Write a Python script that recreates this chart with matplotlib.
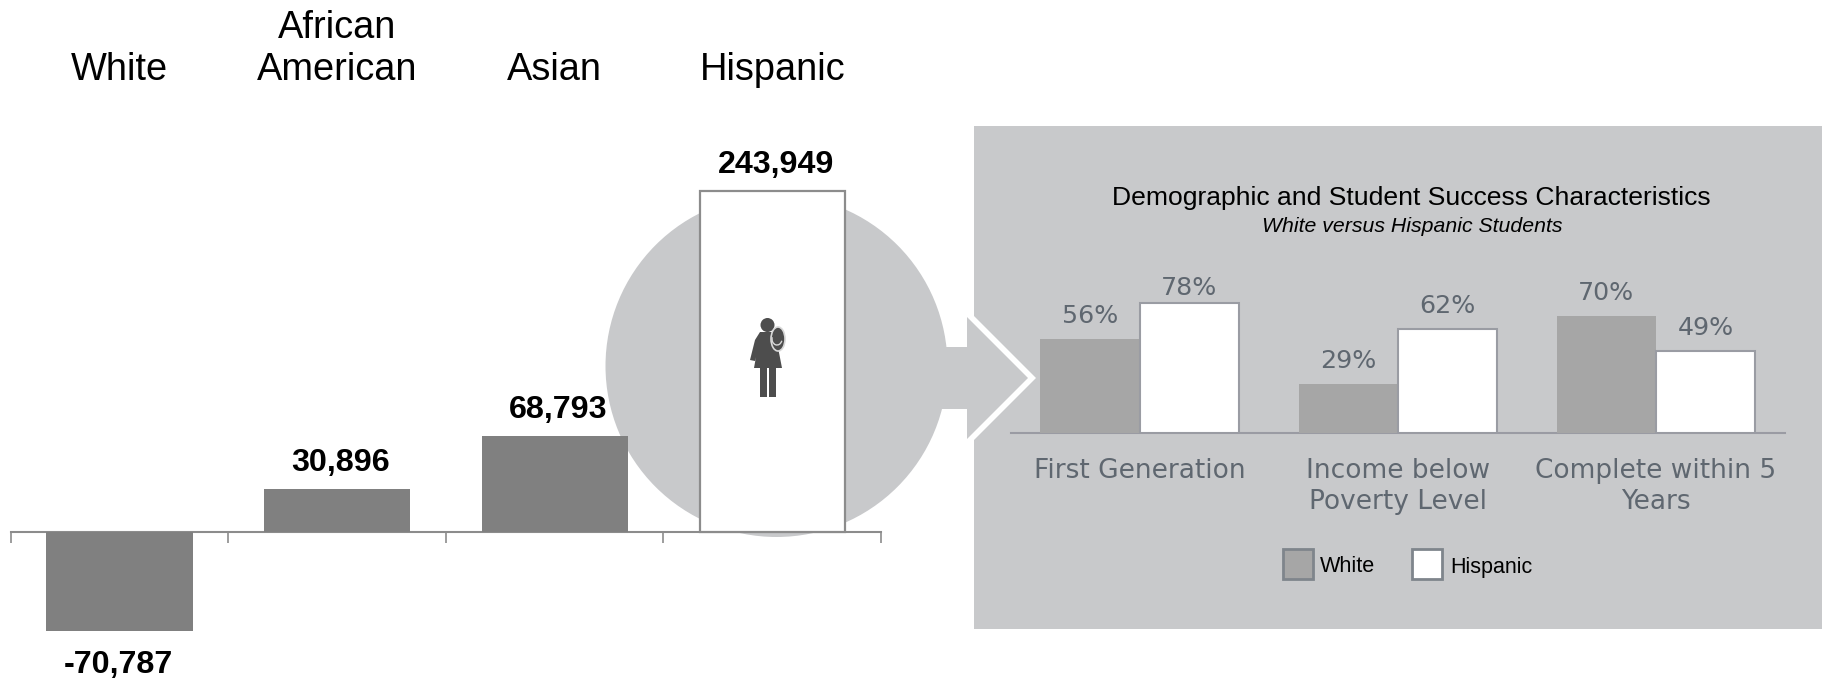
import matplotlib
matplotlib.use('Agg')
import matplotlib.pyplot as plt
from matplotlib.patches import Rectangle, Circle, Polygon, Ellipse, Arc

# left chart data
groups = ['White', 'African\nAmerican', 'Asian', 'Hispanic']
net_change = [-70787, 30896, 68793, 243949]
net_labels = ['-70,787', '30,896', '68,793', '243,949']

# right chart data
measures = ['First Generation', 'Income below\nPoverty Level', 'Complete within 5\nYears']
white_pct = [56, 29, 70]
hispanic_pct = [78, 62, 49]

W, H = 1822, 678
ARIAL = 'Liberation Sans'
PANEL = '#c8c9cb'
TEXT_GREY = '#5f6770'


def axes_from_pixels(left, top, right, bottom):
    return fig.add_axes([left / W, 1 - bottom / H, (right - left) / W, (bottom - top) / H])


fig = plt.figure(figsize=(W / 100, H / 100), dpi=100, facecolor='white')

# background shapes, in pixels
bg = fig.add_axes([0, 0, 1, 1], zorder=0)
bg.set_xlim(0, W)
bg.set_ylim(H, 0)
bg.axis('off')
bg.add_patch(Rectangle((974, 126), W - 974, 503, color=PANEL, lw=0))
bg.add_patch(Circle((776.5, 366), 171, color=PANEL, lw=0))
bg.add_patch(Polygon([(967, 309), (1036, 378), (967, 447)], color='white', lw=0))
bg.add_patch(Rectangle((930, 347), 37, 62, color=PANEL, lw=0))
bg.add_patch(Polygon([(967, 317), (1028, 378), (967, 439)], color=PANEL, lw=0))

# left chart
ax = axes_from_pixels(10.9, 150, 881.0, 640)
ax.patch.set_alpha(0)
ax.set_zorder(1)
px_per_unit = 341 / 243949
ax.set_xlim(-0.5, 3.5)
ax.set_ylim(-(640 - 532.4) / px_per_unit, (532.4 - 150) / px_per_unit)
x = list(range(len(groups)))
for i in x:
    if groups[i] == 'Hispanic':
        ax.bar(i, net_change[i], width=0.665, color='white', edgecolor='#8c8c8c', linewidth=1.6, zorder=3)
    else:
        ax.bar(i, net_change[i], width=0.673, color='#808080', linewidth=0, zorder=3)
    dy = 26 if net_change[i] > 0 else -34
    dx = 3.5 if net_change[i] > 0 else -1
    ax.annotate(net_labels[i], (i, net_change[i]), xytext=(dx * 0.72, dy * 0.72), textcoords='offset points',
                ha='center', va='center', fontsize=23.2, fontweight='bold', family=ARIAL, color='black')
    ax.text(i, 1.127, groups[i], transform=ax.get_xaxis_transform(), ha='center', va='bottom', fontsize=27.4,
            family=ARIAL, color='black', linespacing=1.2, clip_on=False)
for side in ['top', 'left', 'right']:
    ax.spines[side].set_visible(False)
ax.spines['bottom'].set_position(('data', 0))
ax.spines['bottom'].set_color('#8c8c8c')
ax.spines['bottom'].set_linewidth(1.5)
ax.set_xticks([-0.5, 0.5, 1.5, 2.5, 3.5])
ax.set_xticklabels([])
ax.tick_params(axis='x', direction='out', length=8, width=1.2, color='#8c8c8c')
ax.set_yticks([])

# right chart
ax2 = axes_from_pixels(1010.5, 270, 1785, 432.7)
ax2.patch.set_alpha(0)
ax2.set_zorder(2)
ax2.set_xlim(-0.5, 2.5)
ax2.set_ylim(0, (432.7 - 270) / 1.665)
bw = 0.384
xs = list(range(len(measures)))
ax2.bar([i - bw / 2 for i in xs], white_pct, width=bw, color='#a6a6a6', linewidth=0, zorder=3)
ax2.bar([i + bw / 2 for i in xs], hispanic_pct, width=bw, color='white', edgecolor='#9a9ca3', linewidth=1.5, zorder=3)
for i in xs:
    ax2.annotate(f'{white_pct[i]}%', (i - bw / 2, white_pct[i]), xytext=(0, 17), textcoords='offset points',
                 ha='center', va='center', fontsize=18.2, color=TEXT_GREY)
    # the tallest label sits closer to its bar in the original
    off = 10.5 if hispanic_pct[i] == max(hispanic_pct) else 17
    ax2.annotate(f'{hispanic_pct[i]}%', (i + bw / 2, hispanic_pct[i]), xytext=(0, off), textcoords='offset points',
                 ha='center', va='center', fontsize=18.2, color=TEXT_GREY)
for side in ['top', 'left', 'right']:
    ax2.spines[side].set_visible(False)
ax2.spines['bottom'].set_color('#9a9ba3')
ax2.spines['bottom'].set_linewidth(1.5)
ax2.set_xticks(xs)
ax2.set_xticklabels(measures, fontsize=19, color=TEXT_GREY, linespacing=1.23)
ax2.tick_params(axis='x', length=0, pad=18.5)
ax2.set_yticks([])

# titles and legend, on top of the panel
top = fig.add_axes([0, 0, 1, 1], zorder=3)
top.set_xlim(0, W)
top.set_ylim(H, 0)
top.axis('off')
top.text(1411, 197.5, 'Demographic and Student Success Characteristics', ha='center', va='center',
         fontsize=19.05, family=ARIAL, color='black')
top.text(1412, 226, 'White versus Hispanic Students', ha='center', va='center', fontsize=15.3,
         style='italic', family=ARIAL, color='black')
top.add_patch(Rectangle((1283, 548.5), 30, 30, facecolor='#a6a6a6', edgecolor='#7f858c', linewidth=2))
top.add_patch(Rectangle((1412, 548.5), 30, 30, facecolor='white', edgecolor='#7f858c', linewidth=2))
top.text(1320, 566.5, 'White', ha='left', va='center', fontsize=15.6, family=ARIAL, color='black')
top.text(1450, 567.5, 'Hispanic', ha='left', va='center', fontsize=15.5, family=ARIAL, color='black')

# student icon
ICON = '#4d4d4d'
top.add_patch(Circle((767.5, 325), 7, color=ICON, lw=0))
top.add_patch(Polygon([(760, 332), (775, 332), (782, 368), (754, 368), (756, 357), (755, 361), (750, 360),
                       (755, 340)], color=ICON, lw=0))
top.add_patch(Rectangle((759.5, 368), 7.5, 29, color=ICON, lw=0))
top.add_patch(Rectangle((768.5, 368), 7.5, 29, color=ICON, lw=0))
top.add_patch(Ellipse((778, 339), 14, 24, facecolor=ICON, edgecolor='#d8d8d8', linewidth=1.2))
top.add_patch(Arc((777, 339), 10, 12, theta1=20, theta2=200, color='#d8d8d8', linewidth=1))

fig.savefig('out.png', dpi=100)
